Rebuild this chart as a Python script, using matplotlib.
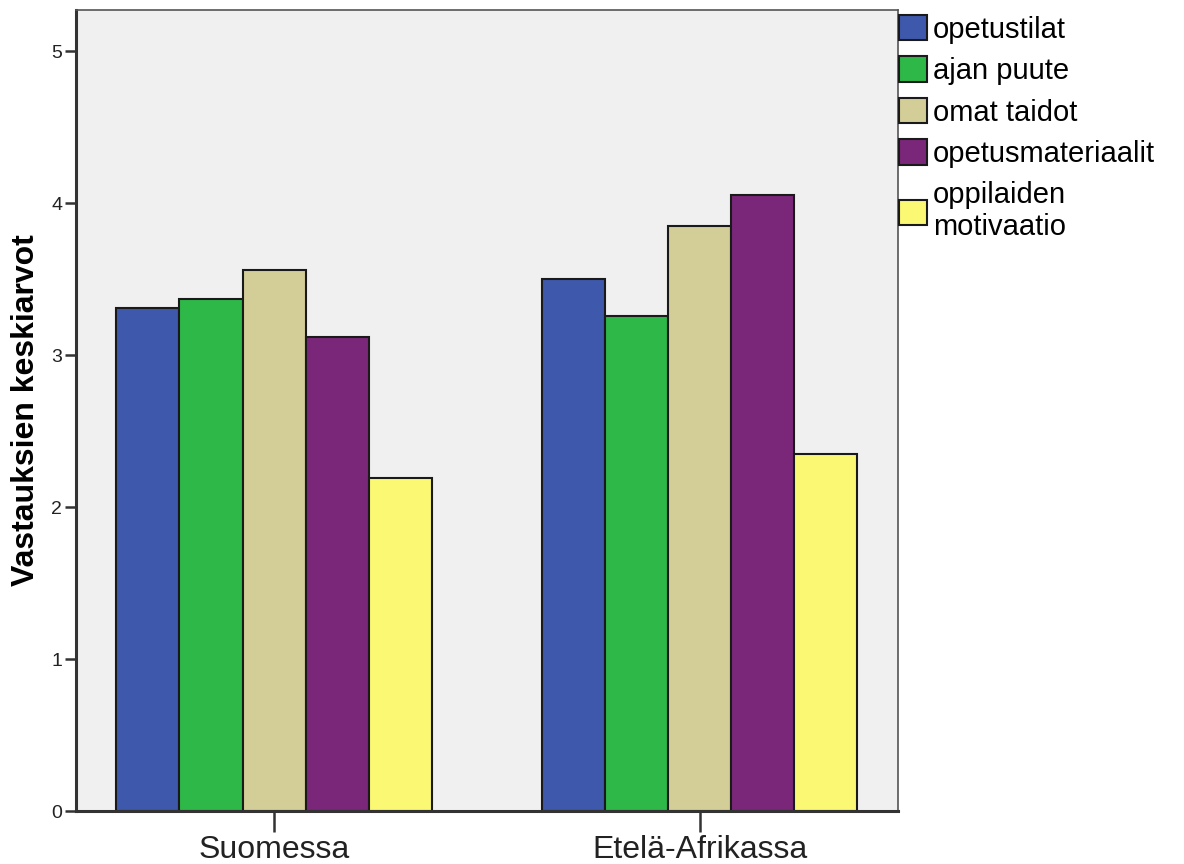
import matplotlib
matplotlib.use("Agg")
import matplotlib.pyplot as plt
import numpy as np

# Mean answers per country
countries = ["Suomessa", "Etelä-Afrikassa"]
series_names = ["opetustilat", "ajan puute", "omat taidot",
                "opetusmateriaalit", "oppilaiden\nmotivaatio"]
opetustilat = [3.31, 3.50]
ajan_puute = [3.37, 3.26]
omat_taidot = [3.56, 3.85]
opetusmateriaalit = [3.12, 4.05]
oppilaiden_motivaatio = [2.19, 2.35]
y_ticks = [0, 1, 2, 3, 4, 5]

series_values = [opetustilat, ajan_puute, omat_taidot,
                 opetusmateriaalit, oppilaiden_motivaatio]
colors = ['#3e58ac', '#2eb848', '#d3ce97', '#7b2779', '#fbf873']

plt.rcParams['font.family'] = ['Liberation Sans', 'DejaVu Sans']

fig = plt.figure(figsize=(11.84, 8.64), dpi=100)
ax = fig.add_axes([0.0642, 0.0613, 0.6942, 0.9271])
ax.set_facecolor('#f0f0f0')

x = np.arange(len(countries))
width = 0.148
n = len(series_values)
for i, (name, vals, col) in enumerate(zip(series_names, series_values, colors)):
    offset = (i - (n - 1) / 2) * width
    ax.bar(x + offset, vals, width, label=name, color=col,
           edgecolor='#1a1a1a', linewidth=1.5)

ax.set_xlim(-0.465, 1.465)
ax.set_ylim(0, 5.27)
ax.set_xticks(x)
ax.set_xticklabels(countries, fontsize=23, color='#222222')
ax.set_yticks(y_ticks)
ax.set_yticklabels([str(t) for t in y_ticks], fontsize=14, color='#222222')
ax.tick_params(axis='x', length=15, width=1.8, color='#333333', pad=2)
ax.tick_params(axis='y', length=8, width=1.8, color='#333333', pad=2)

for side in ['left', 'bottom']:
    ax.spines[side].set_linewidth(2.2)
    ax.spines[side].set_color('#333333')
for side in ['top', 'right']:
    ax.spines[side].set_linewidth(1.2)
    ax.spines[side].set_color('#555555')

ax.set_ylabel('Vastauksien keskiarvot', fontsize=23, fontweight='bold',
              labelpad=7)

# legend sits right outside the plot area, no frame
ax.legend(loc='upper left', bbox_to_anchor=(1.0, 0.995), frameon=False,
          fontsize=21, handlelength=0.96, handleheight=0.96,
          handletextpad=0.22, labelspacing=0.44, borderaxespad=0.03,
          borderpad=0.0)

plt.savefig('out.png', dpi=100, facecolor='white')
